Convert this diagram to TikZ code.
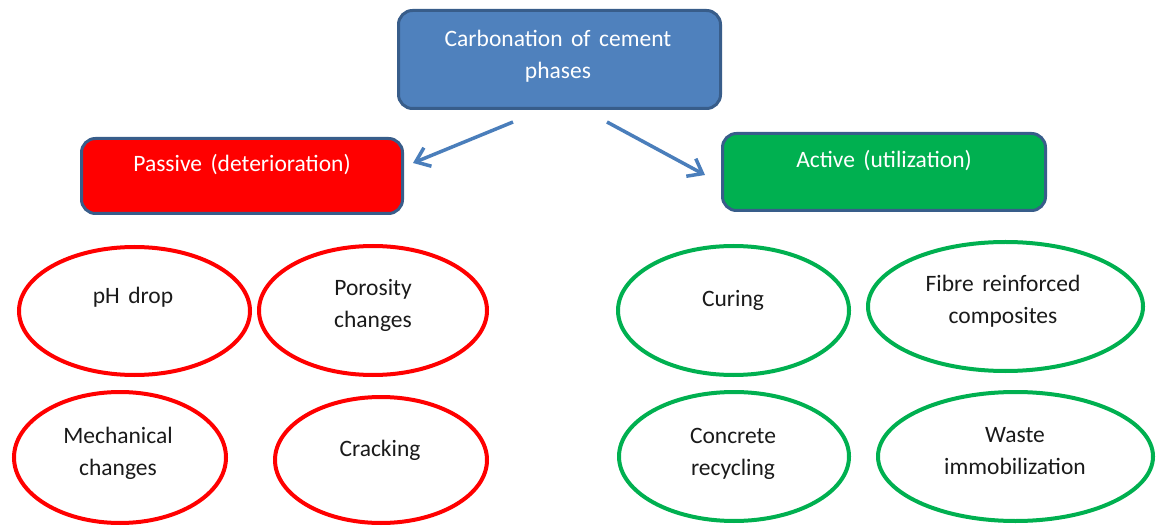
\documentclass[tikz,border=0pt]{standalone}
\usepackage{fontspec}
\setmainfont{Carlito}[WordSpace=1.6]
\usetikzlibrary{shapes.geometric,arrows.meta}
\definecolor{topfill}{HTML}{4F81BD}
\definecolor{boxline}{HTML}{385D8A}
\definecolor{redfill}{HTML}{FF0000}
\definecolor{greenfill}{HTML}{00B050}
\definecolor{arrowc}{HTML}{4A7EBB}
\definecolor{txtdark}{HTML}{1A1A1A}
\tikzset{
  rbox/.style={draw=boxline, line width=3pt, rounded corners=14pt, inner sep=0pt},
  redell/.style={ellipse, draw=redfill, line width=4pt, inner sep=0pt},
  greenell/.style={ellipse, draw=greenfill, line width=4pt, inner sep=0pt},
  boxtxt/.style={text=white, font=\fontsize{23.5}{32}\selectfont, align=center, inner sep=0pt},
  elltxt/.style={text=txtdark, font=\fontsize{23.5}{32}\selectfont, align=center, inner sep=0pt},
  conn/.style={draw=arrowc, line width=3.5pt, -{Straight Barb[length=13pt,width=20pt]}}
}
\begin{document}
\begin{tikzpicture}[x=1pt,y=-1pt]
\useasboundingbox (0,0) rectangle (1156,526);
% boxes
\node[rbox, fill=topfill, minimum width=322pt, minimum height=98pt] (top) at (559.5,59.5) {};
\node[boxtxt] (toptxt) at (558,56) {Carbonation of cement\\phases};
\node[rbox, fill=redfill, minimum width=321pt, minimum height=75pt] (passive) at (242,176) {};
\node[boxtxt] (passivetxt) at (242,165) {Passive (deterioration)};
\node[rbox, fill=greenfill, minimum width=323pt, minimum height=77pt] (active) at (884,172) {};
\node[boxtxt] (activetxt) at (884,161) {Active (utilization)};
% arrows
\coordinate (a1s) at (513,122);
\coordinate (a1e) at (413,163);
\coordinate (a2s) at (607,122);
\coordinate (a2e) at (705,175);
\draw[conn] (a1s) -- (a1e);
\draw[conn] (a2s) -- (a2e);
% red ellipses
\node[redell, minimum width=231pt, minimum height=128pt] (ph) at (134.5,311) {};
\node[elltxt] (phtxt) at (133,297) {pH drop};
\node[redell, minimum width=228pt, minimum height=129pt] (por) at (373,310.5) {};
\node[elltxt] (portxt) at (373,305.5) {Porosity\\changes};
\node[redell, minimum width=212pt, minimum height=131pt] (mech) at (120,457.5) {};
\node[elltxt] (mechtxt) at (118,453) {Mechanical\\changes};
\node[redell, minimum width=212pt, minimum height=126pt] (crack) at (381,460) {};
\node[elltxt] (cracktxt) at (380,450) {Cracking};
% green ellipses
\node[greenell, minimum width=231pt, minimum height=129pt] (cur) at (733.5,310.5) {};
\node[elltxt] (curtxt) at (733,300) {Curing};
\node[greenell, minimum width=275pt, minimum height=129pt] (fib) at (1005.5,306.5) {};
\node[elltxt] (fibtxt) at (1003,301.5) {Fibre reinforced\\composites};
\node[greenell, minimum width=230pt, minimum height=129pt] (conc) at (734,456.5) {};
\node[elltxt] (conctxt) at (733,453.5) {Concrete\\recycling};
\node[greenell, minimum width=275pt, minimum height=129pt] (waste) at (1015.5,456.5) {};
\node[elltxt] (wastetxt) at (1015,451.5) {Waste\\immobilization};
\end{tikzpicture}
\end{document}
